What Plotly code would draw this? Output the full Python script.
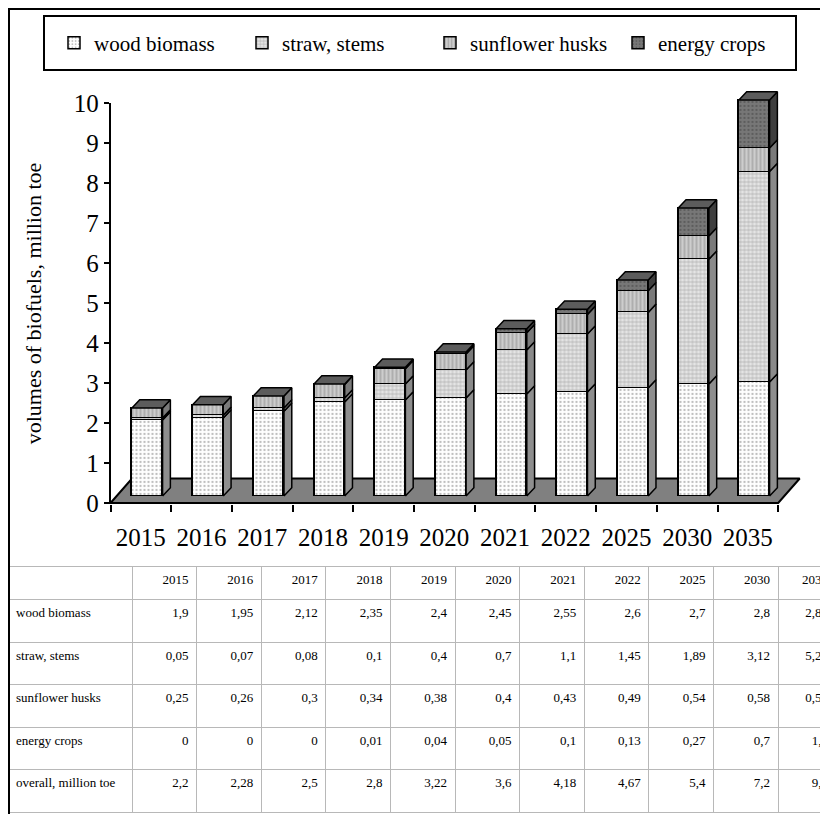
import plotly.graph_objects as go

# ---------------- data ----------------
years = ["2015", "2016", "2017", "2018", "2019", "2020", "2021", "2022", "2025", "2030", "2035"]
series_names = ["wood biomass", "straw, stems", "sunflower husks", "energy crops"]
wood_biomass = [1.9, 1.95, 2.12, 2.35, 2.4, 2.45, 2.55, 2.6, 2.7, 2.8, 2.85]
straw_stems = [0.05, 0.07, 0.08, 0.1, 0.4, 0.7, 1.1, 1.45, 1.89, 3.12, 5.26]
sunflower_husks = [0.25, 0.26, 0.3, 0.34, 0.38, 0.4, 0.43, 0.49, 0.54, 0.58, 0.59]
energy_crops = [0, 0, 0, 0.01, 0.04, 0.05, 0.1, 0.13, 0.27, 0.7, 1.2]
overall = [2.2, 2.28, 2.5, 2.8, 3.22, 3.6, 4.18, 4.67, 5.4, 7.2, 9.9]
table_row_labels = ["wood biomass", "straw, stems", "sunflower husks", "energy crops", "overall, million toe"]
y_tick_values = [0, 1, 2, 3, 4, 5, 6, 7, 8, 9, 10]
y_title = "volumes of biofuels, million toe"

series_values = [wood_biomass, straw_stems, sunflower_husks, energy_crops]

# ---------------- styles / geometry (page pixels of the reference) ----------------
W, H = 828, 814
OFF = 8                # page margin around the figure
FONT = "Liberation Serif"
AXIS_PX = 110.5        # y axis / floor front-left x
CAT_PX = 60.7          # pixels per category
ZERO_PY = 503          # y pixel of value 0 on front plane
TOP_PY = 103           # y pixel of value 10
UNIT_PY = (ZERO_PY - TOP_PY) / 10.0
BAR_SHIFT = (6.4, 7.0)     # bars sit deeper in the 3D box
BAR_DEPTH = (7.8, 8.3)     # side/top face depth of each bar
FLOOR_DEPTH = (21.5, 24.5)
BAR_WIDTH = 0.505

front_colors = ["#ffffff", "#e4e4e4", "#cdcdcd", "#777777"]
pattern_fg = ["#bdbdbd", "#a0a0a0", "#8f8f8f", "#5c5c5c"]
pattern_shape = [".", "+", "|", "."]
pattern_size = [4, 4, 4, 4]
side_colors = ["#8e8e8e", "#8a8a8a", "#7a7a7a", "#3e3e3e"]
top_color = "#5c5c5c"
table_line = "#b8b8b8"


def fx(px):
    return (px - OFF) / W


def fy(py):
    return 1 - (py - OFF) / H


n = len(years)
xs = list(range(n))

fig = go.Figure()

# ---- floor (front plane axes x/y) ----
fdx = FLOOR_DEPTH[0] / CAT_PX
fdy = FLOOR_DEPTH[1] / UNIT_PY
fig.add_trace(go.Scatter(
    x=[-0.5, n - 0.5, n - 0.5 + fdx, -0.5 + fdx, -0.5],
    y=[0, 0, fdy, fdy, 0],
    mode="lines", fill="toself", fillcolor="#808080",
    line=dict(color="black", width=2),
    xaxis="x", yaxis="y", showlegend=False, hoverinfo="skip"))

# ---- bar front faces (x2/y2) ----
for name, vals, c, fg, shp, sz in zip(series_names, series_values, front_colors,
                                        pattern_fg, pattern_shape, pattern_size):
    fig.add_trace(go.Bar(
        x=xs, y=vals, name=name, width=BAR_WIDTH,
        xaxis="x2", yaxis="y2",
        marker=dict(color=c,
                    pattern=dict(shape=shp, fgcolor=fg, bgcolor=c, size=sz, solidity=0.25,
                                 fillmode="replace"),
                    line=dict(color="black", width=1.5))))

# ---- side faces and top faces computed from stacked values ----
bdx = BAR_DEPTH[0] / CAT_PX
bdy = BAR_DEPTH[1] / UNIT_PY
hw = BAR_WIDTH / 2
cum = [0.0] * n
for name, vals, sc in zip(series_names, series_values, side_colors):
    px_, py_ = [], []
    for i in xs:
        y0, y1 = cum[i], cum[i] + vals[i]
        if vals[i] > 0:
            xr = i + hw
            px_ += [xr, xr + bdx, xr + bdx, xr, xr, None]
            py_ += [y0, y0 + bdy, y1 + bdy, y1, y0, None]
        cum[i] = y1
    fig.add_trace(go.Scatter(x=px_, y=py_, mode="lines", fill="toself", fillcolor=sc,
                             line=dict(color="black", width=1.5),
                             xaxis="x2", yaxis="y2", showlegend=False, hoverinfo="skip"))

tx, ty = [], []
for i in xs:
    t = cum[i]
    tx += [i - hw, i - hw + bdx, i + hw + bdx, i + hw, i - hw, None]
    ty += [t, t + bdy, t + bdy, t, t, None]
fig.add_trace(go.Scatter(x=tx, y=ty, mode="lines", fill="toself", fillcolor=top_color,
                         line=dict(color="black", width=1.5),
                         xaxis="x2", yaxis="y2", showlegend=False, hoverinfo="skip"))

# ---- data table ----
def fmt(v):
    return ("%g" % v).replace(".", ",")

cols = [table_row_labels]
for j in xs:
    cols.append([fmt(wood_biomass[j]), fmt(straw_stems[j]), fmt(sunflower_husks[j]),
                 fmt(energy_crops[j]), fmt(overall[j])])

fig.add_trace(go.Table(
    domain=dict(x=[max(0, fx(7)), 1], y=[0, fy(566.5)]),
    columnwidth=[124] + [64.6] * (n - 1) + [58],
    header=dict(values=[""] + years, align=["left"] + ["right"] * n, height=33,
                fill=dict(color="white"), line=dict(color=table_line, width=1),
                font=dict(family=FONT, size=13, color="black")),
    cells=dict(values=cols, align=["left"] + ["right"] * n, height=42.5,
               fill=dict(color="white"), line=dict(color=table_line, width=1),
               font=dict(family=FONT, size=13, color="black"))))

# ---- axes ----
x_right = -0.5 + (W + OFF - AXIS_PX) / CAT_PX
y_bottom_px = ZERO_PY + 1
sx = BAR_SHIFT[0] / CAT_PX
bar_zero_py = ZERO_PY - BAR_SHIFT[1]
y2_top_px = 60

fig.update_layout(
    width=W, height=H,
    margin=dict(l=0, r=0, t=0, b=0, pad=0, autoexpand=False),
    paper_bgcolor="white", plot_bgcolor="rgba(0,0,0,0)",
    font=dict(family=FONT, color="black"),
    barmode="stack", bargap=0,
    showlegend=True,
    legend=dict(orientation="h", x=fx(54), xanchor="left", y=fy(43), yanchor="middle",
                font=dict(family=FONT, size=21, color="black"),
                entrywidth=143, entrywidthmode="pixels", traceorder="normal",
                bgcolor="rgba(0,0,0,0)", borderwidth=0),
    xaxis=dict(domain=[fx(AXIS_PX), 1], range=[-0.5, x_right], anchor="y",
               tickmode="array", tickvals=xs, ticktext=years, ticks="",
               showline=False, showgrid=False, zeroline=False,
               minor=dict(tick0=-0.5, dtick=1, ticks="outside", ticklen=7,
                          tickcolor="black", tickwidth=1.5, showgrid=False),
               tickfont=dict(family=FONT, size=25), ticklabelstandoff=16),
    yaxis=dict(domain=[fy(y_bottom_px), fy(TOP_PY)],
               range=[-(y_bottom_px - ZERO_PY) / UNIT_PY, 10], anchor="x",
               tickmode="array", tickvals=y_tick_values, ticks="outside", ticklen=5,
               tickcolor="black", tickwidth=1.5,
               showline=True, linecolor="black", linewidth=1.5,
               showgrid=False, zeroline=False,
               tickfont=dict(family=FONT, size=25),
               title=dict(text=y_title, font=dict(family=FONT, size=22), standoff=26)),
    xaxis2=dict(domain=[fx(AXIS_PX), 1], range=[-0.5 - sx, x_right - sx], anchor="y2",
                visible=False, showgrid=False, zeroline=False),
    yaxis2=dict(domain=[fy(y_bottom_px), fy(y2_top_px)],
                range=[-(y_bottom_px - bar_zero_py) / UNIT_PY, (bar_zero_py - y2_top_px) / UNIT_PY],
                anchor="x2", visible=False, showgrid=False, zeroline=False),
    shapes=[
        dict(type="rect", xref="paper", yref="paper", x0=fx(OFF + 1), y0=fy(OFF + 1), x1=1.05, y1=-0.05,
             line=dict(color="black", width=2), fillcolor="rgba(0,0,0,0)"),
        dict(type="rect", xref="paper", yref="paper", x0=fx(44), y0=fy(16), x1=fx(796), y1=fy(70),
             line=dict(color="black", width=2), fillcolor="rgba(0,0,0,0)"),
    ],
)

fig.write_html("out.html")
